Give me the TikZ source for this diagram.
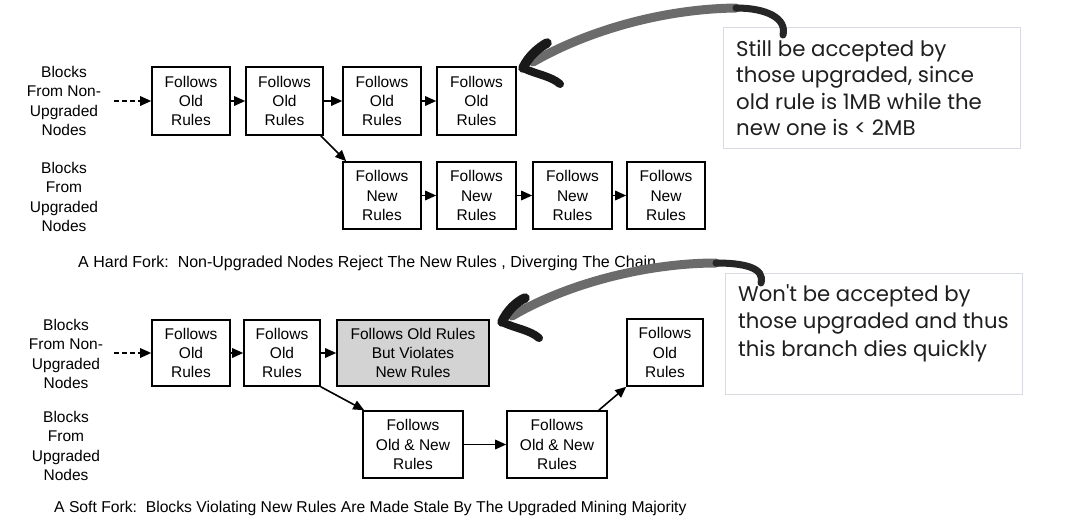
\documentclass[tikz,border=0pt]{standalone}
\usepackage{fontspec}
\setmainfont{Liberation Sans}
\newfontfamily\calloutfont{Poppins}
\usetikzlibrary{arrows.meta}
\definecolor{cborder}{HTML}{D8DCE2}
\definecolor{staleg}{HTML}{D3D3D3}
\tikzset{
  blk/.style={draw=black, line width=1.6pt, fill=white, align=center, inner sep=0pt,
    font=\fontsize{15.5}{19.2}\selectfont},
  lbl/.style={align=center, font=\fontsize{15.5}{19.6}\selectfont},
  captxt/.style={anchor=west, inner sep=0pt},
  conn/.style={line width=1.6pt, -{Triangle[length=11pt,width=9.5pt]}},
  callout/.style={draw=cborder, line width=1pt, fill=white},
  ctext/.style={anchor=north west, align=left, text=black!88, inner sep=0pt},
  hook/.style={line width=7pt, line cap=round, draw=black!85},
  brush/.style={line width=9pt, line cap=round, draw=black!58},
  barb/.style={line width=9.5pt, line cap=round, draw=black!90},
}
\begin{document}
\begin{tikzpicture}[x=1pt,y=-1pt]
\useasboundingbox (0,0) rectangle (1070,528);

% ---------- Hard fork ----------
\node[lbl] (l1) at (64,101) {Blocks\\From Non-\\Upgraded\\Nodes};
\node[lbl] (l2) at (64,197) {Blocks\\From\\Upgraded\\Nodes};
\coordinate (d1) at (114,101);

\node[blk, minimum width=78pt, minimum height=68pt] (b1) at (191,101) {Follows\\Old\\Rules};
\node[blk, minimum width=77pt, minimum height=68pt] (b2) at (284.5,101) {Follows\\Old\\Rules};
\node[blk, minimum width=78pt, minimum height=68pt] (b3) at (382,101) {Follows\\Old\\Rules};
\node[blk, minimum width=79pt, minimum height=68pt] (b4) at (476.5,101) {Follows\\Old\\Rules};

\node[blk, minimum width=78pt, minimum height=67pt] (n1) at (382,195.5) {Follows\\New\\Rules};
\node[blk, minimum width=79pt, minimum height=67pt] (n2) at (476.5,195.5) {Follows\\New\\Rules};
\node[blk, minimum width=79pt, minimum height=67pt] (n3) at (572.5,195.5) {Follows\\New\\Rules};
\node[blk, minimum width=78pt, minimum height=67pt] (n4) at (666,195.5) {Follows\\New\\Rules};

\draw[conn, dash pattern=on 5pt off 3pt] (d1) -- (b1);
\draw[conn] (b1) -- (b2);
\draw[conn] (b2) -- (b3);
\draw[conn] (b3) -- (b4);
\draw[conn] ([xshift=-3pt]b2.south east) -- ([xshift=4pt]n1.north west);
\draw[conn] (n1) -- (n2);
\draw[conn] (n2) -- (n3);
\draw[conn] (n3) -- (n4);

\node[captxt, font=\fontsize{16}{19}\selectfont] (c1) at (78,263) {A Hard Fork:\ \ Non-Upgraded Nodes Reject The New Rules , Diverging The Chain};

% ---------- Soft fork ----------
\node[lbl] (l3) at (66,354) {Blocks\\From Non-\\Upgraded\\Nodes};
\node[lbl] (l4) at (66,446) {Blocks\\From\\Upgraded\\Nodes};
\coordinate (d2) at (114,353);

\node[blk, minimum width=78pt, minimum height=66pt] (s1) at (191,353) {Follows\\Old\\Rules};
\node[blk, minimum width=76pt, minimum height=66pt] (s2) at (282,353) {Follows\\Old\\Rules};
\node[blk, fill=staleg, minimum width=152pt, minimum height=66pt] (s3) at (413,353) {Follows Old Rules\\But Violates\\New Rules};
\node[blk, minimum width=100pt, minimum height=67pt] (s4) at (413,444.5) {Follows\\Old \& New\\Rules};
\node[blk, minimum width=100pt, minimum height=67pt] (s5) at (557,444.5) {Follows\\Old \& New\\Rules};
\node[blk, minimum width=76pt, minimum height=67pt] (s6) at (665,352.5) {Follows\\Old\\Rules};

\draw[conn, dash pattern=on 5pt off 3pt] (d2) -- (s1);
\draw[conn] (s1) -- (s2);
\draw[conn] (s2) -- (s3);
\draw[conn] (s2.south east) -- ([xshift=2pt]s4.north west);
\draw[conn] (s4) -- (s5);
\draw[conn] ([xshift=-9pt]s5.north east) -- (s6.south west);

\node[captxt, font=\fontsize{15.7}{19}\selectfont] (c2) at (54,508) {A Soft Fork:\ \ Blocks Violating New Rules Are Made Stale By The Upgraded Mining Majority};

% ---------- Callouts ----------
\draw[callout] (723,27) rectangle (1020,148);
\node[ctext, font=\calloutfont\fontsize{21.3}{26.4}\selectfont] (t1) at (736,40) {Still be accepted by\\those upgraded, since\\old rule is 1MB while the\\new one is < 2MB};
\draw[callout] (725,273) rectangle (1022,394);
\node[ctext, font=\calloutfont\fontsize{21.2}{27.4}\selectfont] (t2) at (738,284.5) {Won't be accepted by\\those upgraded and thus\\this branch dies quickly};

% ---------- Brush arrows ----------
\coordinate (h1) at (783,35);
\coordinate (m1) at (736,8);
\coordinate (e1) at (533,62);
\coordinate (k1) at (523,68);
\draw[brush] (m1) .. controls (660,9) and (585,32) .. (e1);
\draw[hook] (h1) .. controls (787,18) and (766,8) .. (m1);
\draw[barb] (k1) .. controls (528,57) and (538,48) .. (547,43);
\draw[barb, line width=8pt] (k1) .. controls (535,74) and (551,76) .. (560,84);

\coordinate (h2) at (761,283);
\coordinate (m2) at (716,263);
\coordinate (e2) at (512,316);
\coordinate (k2) at (502,322);
\draw[brush] (m2) .. controls (650,263) and (570,282) .. (e2);
\draw[hook] (h2) .. controls (765,268) and (745,263) .. (m2);
\draw[barb] (k2) .. controls (507,311) and (516,302) .. (525,298);
\draw[barb, line width=8pt] (k2) .. controls (514,328) and (530,330) .. (539,338);
\end{tikzpicture}
\end{document}
